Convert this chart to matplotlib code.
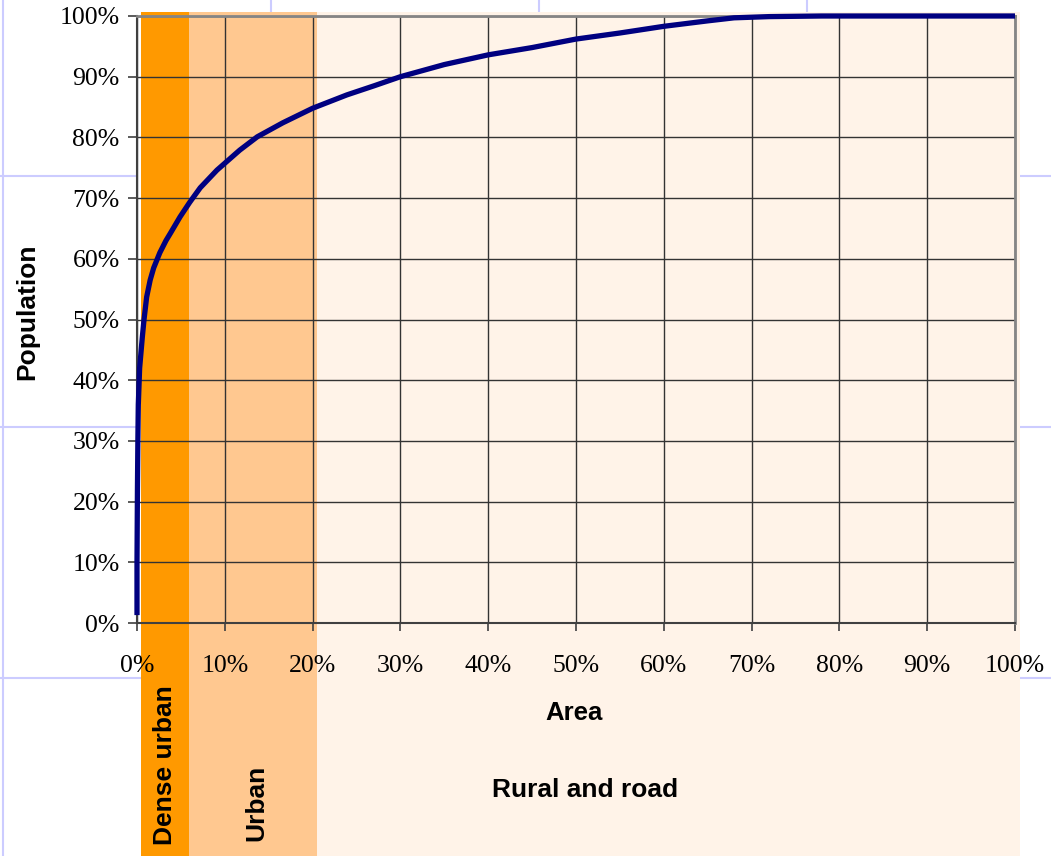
import matplotlib
matplotlib.use("Agg")
from matplotlib import pyplot as plt
from matplotlib.lines import Line2D
from matplotlib.patches import Rectangle
from matplotlib.transforms import blended_transform_factory
import numpy as np

# cumulative share of area (%) vs cumulative share of population (%)
area = [0, 0, 0.05, 0.1, 0.15, 0.3, 0.6, 0.8, 1.1, 1.5, 1.9, 2.6, 3.3, 3.8, 4.9,
        6.0, 7.2, 9.1, 11.7, 13.7, 16.6, 20, 23.9, 27, 30, 35, 40, 45, 50, 55,
        60, 65, 68, 72, 78, 100]
population = [1.3, 10, 22, 30, 36, 42, 47, 50, 53.7, 56.5, 58.5, 61, 63, 64.2, 66.9,
              69.3, 71.7, 74.6, 77.9, 80.1, 82.4, 84.8, 87, 88.5, 90, 92, 93.6, 94.8, 96.2, 97.2,
              98.3, 99.2, 99.7, 99.9, 100, 100]

band_names = ["Dense urban", "Urban", "Rural and road"]
band_edges = [0.5, 5.9, 20.5, 100.6]
band_colors = ["#FF9900", "#FFC890", "#FFF3E8"]

ticks = np.arange(0, 101, 10)
tick_labels = [f"{t}%" for t in ticks]

fig = plt.figure(figsize=(10.51, 8.56), dpi=100)

# slide background grid (lavender)
lav = "#CCCCFF"
for x in [3, 271, 539, 807]:
    fig.add_artist(Line2D([x / 1051, x / 1051], [0, 1], color=lav, lw=1.5, zorder=-5))
for y in [176, 427, 678]:
    fig.add_artist(Line2D([0, 1], [1 - y / 856, 1 - y / 856], color=lav, lw=1.5, zorder=-5))

ax = fig.add_axes([137 / 1051, 1 - 623 / 856, 878 / 1051, 607 / 856])
ax.set_facecolor("white")

# bands reach above the plot and down to the bottom of the figure
trans = blended_transform_factory(ax.transData, fig.transFigure)
for i, c in enumerate(band_colors):
    ax.add_patch(Rectangle((band_edges[i], 0), band_edges[i + 1] - band_edges[i], 1 - 12 / 856,
                           transform=trans, facecolor=c, edgecolor="none",
                           clip_on=False, zorder=0.1))

ax.plot(area, population, color="#000080", lw=3.8, solid_capstyle="butt",
        clip_on=False, zorder=3)

ax.set_xlim(0, 100)
ax.set_ylim(0, 100)
ax.set_xticks(ticks)
ax.set_yticks(ticks)
ax.set_xticklabels(tick_labels, family="Liberation Serif", fontsize=18.5)
ax.set_yticklabels(tick_labels, family="Liberation Serif", fontsize=18.5)
ax.set_axisbelow(True)
ax.grid(True, color="#333333", lw=1.0)
ax.tick_params(axis="x", direction="out", length=6, width=1.2, color="#404040", pad=17)
ax.tick_params(axis="y", direction="out", length=6.5, width=1.2, color="#404040", pad=6)
for s in ["left", "bottom"]:
    ax.spines[s].set_color("#404040")
    ax.spines[s].set_linewidth(1.5)
for s in ["top", "right"]:
    ax.spines[s].set_color("#858585")
    ax.spines[s].set_linewidth(2)

lab = dict(family="Liberation Sans", weight="bold")
fig.text(27 / 1051, 1 - 312 / 856, "Population", rotation=90, ha="center", va="center",
         fontsize=19, **lab)
fig.text(574 / 1051, 1 - 713 / 856, "Area", ha="center", va="center", fontsize=18.5, **lab)
fig.text(585 / 1051, 1 - 790 / 856, band_names[2], ha="center", va="center", fontsize=19, **lab)
fig.text(165 / 1051, 1 - 765 / 856, band_names[0], rotation=90, ha="center", va="center",
         fontsize=19, **lab)
fig.text(256 / 1051, 1 - 803 / 856, band_names[1], rotation=90, ha="center", va="center",
         fontsize=19, **lab)

fig.savefig("out.png", dpi=100)
